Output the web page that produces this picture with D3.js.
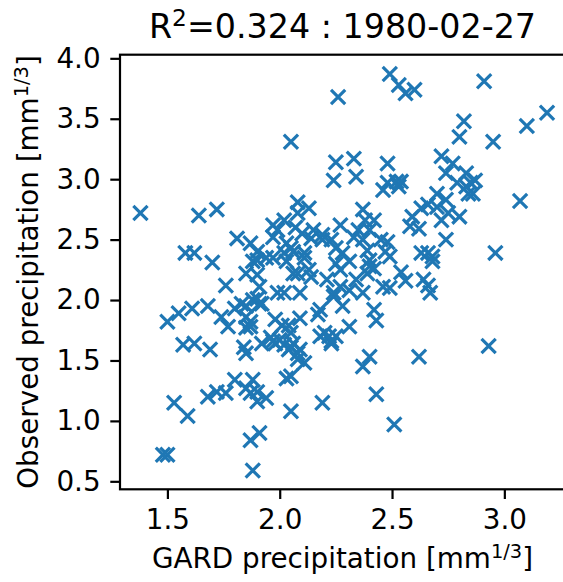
<!DOCTYPE html>
<html>
<head>
<meta charset="utf-8">
<script src="https://cdn.jsdelivr.net/npm/d3@7"></script>
<style>
body { margin: 0; background: #fff; }
text { font-family: "DejaVu Sans", sans-serif; fill: #000; }
</style>
</head>
<body>
<svg id="chart" width="563" height="582"></svg>
<script>
// GARD (x) vs observed (y) precipitation, cube-root transformed
var points = [
  [2.49,3.87],[2.53,3.78],[2.56,3.71],[2.60,3.74],[2.91,3.81],[2.26,3.68],
  [2.82,3.48],[2.80,3.35],[2.95,3.31],[3.10,3.44],[3.19,3.55],[2.05,3.31],
  [3.07,2.82],[2.96,2.39],[2.93,1.62],
  [2.25,3.14],[2.33,3.17],[2.34,3.02],[2.24,2.99],[2.48,3.13],[2.72,3.19],[2.77,3.13],[2.74,3.05],
  [2.83,3.05],[2.85,2.97],[2.87,2.99],[2.83,2.94],[2.84,2.88],[2.79,2.97],[2.86,2.88],
  [2.46,2.91],[2.48,2.97],[2.52,2.98],[2.53,2.94],[2.54,2.98],[2.70,2.88],[2.66,2.79],[2.63,2.76],
  [2.70,2.77],[2.74,2.83],[2.75,2.72],[2.72,2.66],[2.59,2.69],[2.58,2.61],[2.62,2.59],[2.80,2.69],
  [2.37,2.75],[2.38,2.66],[2.27,2.62],[2.42,2.66],[2.40,2.58],[2.35,2.58],[2.33,2.52],[2.37,2.50],
  [2.45,2.50],[2.48,2.48],[2.74,2.50],[2.63,2.39],[2.66,2.39],[2.68,2.36],[2.25,2.43],[2.28,2.39],
  [2.39,2.41],[2.47,2.40],[2.49,2.36],[2.40,2.33],[2.31,2.32],[2.25,2.30],
  [2.62,1.53],[2.40,1.53],[2.37,1.45],[2.43,1.22],[2.51,0.97],[2.42,1.92],[2.43,1.83],[2.31,1.78],
  [2.28,1.95],[2.25,1.70],[2.23,1.64],
  [2.54,2.23],[2.56,2.16],[2.66,2.12],[2.67,2.06],[2.64,2.17],[2.68,2.32],[2.46,2.11],[2.39,2.22],
  [2.42,2.26],[2.31,2.08],[2.27,2.11],[2.34,2.17],[2.37,2.06],[2.49,2.10],[2.27,2.25],[2.24,2.03],[2.40,2.28],
  [1.38,2.72],[1.64,2.70],[1.72,2.75],[1.58,2.39],[1.62,2.39],[1.70,2.31],[1.81,2.51],
  [1.50,1.82],[1.55,1.89],[1.61,1.93],[1.68,1.95],[1.74,1.86],[1.77,1.78],
  [1.57,1.63],[1.62,1.64],[1.69,1.59],
  [1.53,1.15],[1.59,1.04],[1.68,1.20],[1.72,1.24],[1.76,1.23],[1.80,1.34],
  [1.50,0.72],[1.48,0.72],[1.88,0.59],[1.87,0.84],[1.91,0.90],
  [2.05,1.08],[2.19,1.15],[1.88,1.34],[1.87,1.23],[1.90,1.16],[1.94,1.19],
  [2.03,1.35],[2.05,1.37],[2.11,1.48],
  [1.84,1.61],[1.85,1.56],[1.92,1.64],[1.97,1.66],[2.02,1.63],[2.05,1.61],[2.08,1.56],
  [2.18,1.70],[2.22,1.70],[2.23,1.66],[2.20,1.73],
  [1.80,1.93],[1.85,1.95],[1.88,2.00],[1.85,1.86],[1.87,1.78],[1.91,1.97],
  [2.02,2.06],[2.09,2.06],[2.09,1.85],[2.18,1.92],[2.01,1.79],[2.05,1.73],
  [1.76,2.12],[1.85,2.22],[1.90,2.21],[1.91,2.11],
  [2.08,2.22],[2.14,2.19],[2.21,2.17],[2.24,2.06],
  [1.88,2.32],[1.90,2.33],[1.97,2.35],[2.03,2.32],[2.11,2.35],[2.13,2.25],[2.06,2.22],[1.99,2.06],
  [1.83,1.97],[1.90,2.01],[1.92,1.97],[1.87,1.82],[1.85,1.77],
  [1.98,1.84],[2.04,1.79],[2.17,1.88],
  [1.96,1.69],[2.00,1.67],[1.98,1.64],[2.06,1.64],[2.04,1.59],[2.09,1.59],[2.08,1.51],
  [1.85,1.27],[1.90,1.24],
  [1.87,2.47],[1.97,2.62],[1.97,2.52],[2.02,2.66],[2.08,2.81],[2.13,2.76],[2.08,2.72],[2.05,2.43],
  [2.02,2.39],[2.10,2.55],[2.14,2.51],[2.19,2.50],[2.23,2.50],[2.11,2.39],[1.94,2.35],[1.99,2.58],
  [2.07,2.60],[2.15,2.58],[2.03,2.47],[2.19,2.54],[1.90,2.40],[2.06,2.40]
];
var xTicks = [1.5, 2.0, 2.5, 3.0];
var yTicks = [0.5, 1.0, 1.5, 2.0, 2.5, 3.0, 3.5, 4.0];
var titleParts = ['R', '2', '=0.324 : 1980-02-27'];
var xLabelParts = ['GARD precipitation [mm', '1/3', ']'];
var yLabelParts = ['Observed precipitation [mm', '1/3', ']'];

var svg = d3.select('#chart');
var plotLeft = 120, plotRight = 565, plotTop = 54.7, plotBottom = 489.3;
var tickLen = 9.7, tickPad = 9.7, tickFont = 27.8;

var x = d3.scaleLinear().domain([1.289, 3.27]).range([plotLeft, plotRight]);
var y = d3.scaleLinear().domain([0.434, 4.03]).range([plotBottom, plotTop]);

// markers
var arm = 7.1;
svg.append('g').selectAll('path')
  .data(points)
  .enter().append('path')
  .attr('d', function (d) {
    var cx = x(d[0]), cy = y(d[1]);
    return 'M' + (cx - arm) + ',' + (cy - arm) + 'L' + (cx + arm) + ',' + (cy + arm) +
      'M' + (cx - arm) + ',' + (cy + arm) + 'L' + (cx + arm) + ',' + (cy - arm);
  })
  .attr('fill', 'none')
  .attr('stroke', '#1f77b4')
  .attr('stroke-width', 3.2);

// axes
var xAxis = svg.append('g')
  .attr('transform', 'translate(0,' + plotBottom + ')')
  .call(d3.axisBottom(x).tickValues(xTicks).tickFormat(d3.format('.1f')).tickSize(tickLen).tickPadding(tickPad));
var yAxis = svg.append('g')
  .attr('transform', 'translate(' + plotLeft + ',0)')
  .call(d3.axisLeft(y).tickValues(yTicks).tickFormat(d3.format('.1f')).tickSize(tickLen).tickPadding(tickPad));
[xAxis, yAxis].forEach(function (g) {
  g.select('.domain').remove();
  g.selectAll('line').attr('stroke', '#000').attr('stroke-width', 2.2);
  g.selectAll('text').attr('font-family', 'DejaVu Sans').attr('font-size', tickFont).attr('fill', '#000');
});
xAxis.selectAll('text').attr('dy', null).attr('y', 40);

// spines (right one falls just outside the picture)
svg.append('rect')
  .attr('x', plotLeft).attr('y', plotTop)
  .attr('width', plotRight - plotLeft).attr('height', plotBottom - plotTop)
  .attr('fill', 'none').attr('stroke', '#000').attr('stroke-width', 2.2);

function addLabel(parts, size, attrs) {
  var t = svg.append('text').attr('font-size', size).attr('text-anchor', 'middle');
  for (var k in attrs) t.attr(k, attrs[k]);
  t.append('tspan').text(parts[0]);
  t.append('tspan').attr('font-size', size * 0.7).attr('dy', -size * 0.36).text(parts[1]);
  t.append('tspan').attr('dy', size * 0.36).text(parts[2]);
  return t;
}

addLabel(titleParts, 33.3, {x: (plotLeft + plotRight) / 2, y: 38});
addLabel(xLabelParts, 27.8, {x: (plotLeft + plotRight) / 2, y: 568});
addLabel(yLabelParts, 27.8, {transform: 'translate(38,' + ((plotTop + plotBottom) / 2) + ') rotate(-90)'});
</script>
</body>
</html>
